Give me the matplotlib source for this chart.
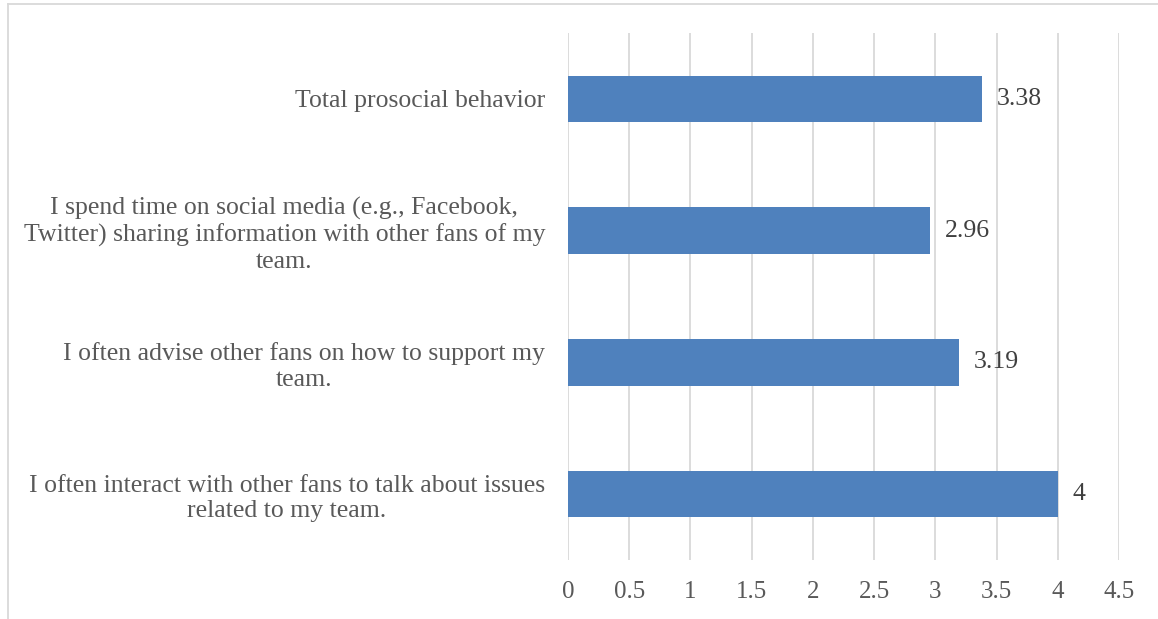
import matplotlib.pyplot as plt
from matplotlib.lines import Line2D

items = [
    "I often interact with other fans to talk about issues\nrelated to my team.",
    "I often advise other fans on how to support my\nteam.",
    "I spend time on social media (e.g., Facebook,\nTwitter) sharing information with other fans of my\nteam.",
    "Total prosocial behavior",
]
scores = [4, 3.19, 2.96, 3.38]
score_labels = ["4", "3.19", "2.96", "3.38"]
xticks = [0, 0.5, 1, 1.5, 2, 2.5, 3, 3.5, 4, 4.5]
xtick_labels = ["0", "0.5", "1", "1.5", "2", "2.5", "3", "3.5", "4", "4.5"]

plt.rcParams['font.family'] = ['Liberation Serif', 'DejaVu Serif']

fig = plt.figure(figsize=(11.58, 6.19), dpi=100)
ax = fig.add_axes([0.4905, 0.0953, 0.4758, 0.8514])

pos = range(len(items))
ax.barh(pos, scores, height=0.354, color="#4F81BD", zorder=3)
for y, v, s in zip(pos, scores, score_labels):
    ax.text(v + 0.12, y, s, va="center", ha="left", fontsize=18.5, color="#404040")

ax.set_xlim(0, 4.5)
ax.set_ylim(-0.5, len(items) - 0.5)
ax.set_xticks(xticks)
ax.set_xticklabels(xtick_labels, fontsize=18, color="#595959")
ax.set_yticks(list(pos))
ax.set_yticklabels(items, fontsize=18.5, color="#595959", multialignment="center")
ax.tick_params(axis="both", length=0)
ax.tick_params(axis="x", pad=15)
ax.tick_params(axis="y", pad=16.5)
ax.grid(axis="x", color="#D9D9D9", linewidth=1.3, zorder=0)
for side in ax.spines.values():
    side.set_visible(False)

# light frame along the top and left edge
fig.add_artist(Line2D([0.007, 1.0], [0.9935, 0.9935], color="#D9D9D9", linewidth=1.3))
fig.add_artist(Line2D([0.007, 0.007], [0.0, 0.9935], color="#D9D9D9", linewidth=1.3))

fig.savefig("out.png", dpi=100)
